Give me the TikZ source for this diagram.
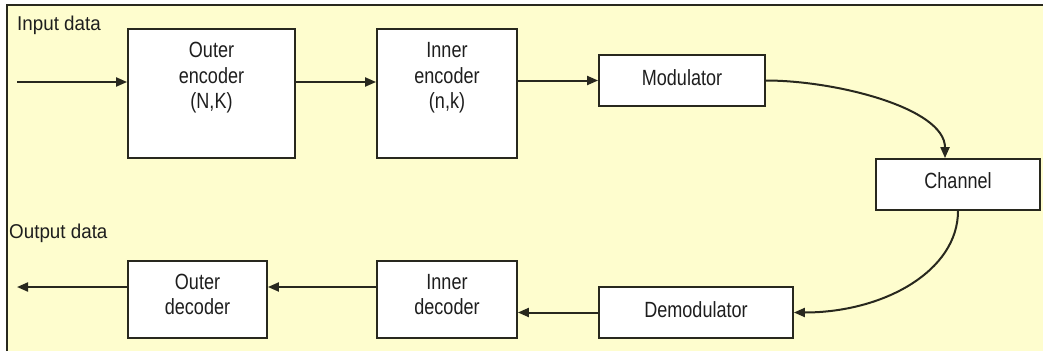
\documentclass[tikz,border=0pt]{standalone}
\usepackage{fontspec}
\setmainfont{Liberation Sans}
\usetikzlibrary{arrows.meta,calc}
\definecolor{bg}{RGB}{254,253,206}
\definecolor{ln}{RGB}{40,40,30}
\definecolor{tx}{RGB}{30,30,30}
\newcommand{\sq}[1]{\scalebox{0.82}[1]{\begin{tabular}{@{}c@{}}#1\end{tabular}}}
\newcommand{\sqq}[1]{\scalebox{0.94}[1]{#1}}
\begin{document}
\begin{tikzpicture}[x=1pt,y=-1pt,
  box/.style={draw=ln,line width=1.8pt,fill=white,inner sep=0pt},
  lab/.style={inner sep=0pt,font=\fontsize{22}{25.5}\selectfont,text=tx},
  side/.style={inner sep=0pt,font=\fontsize{20}{24}\selectfont,text=tx,anchor=west},
  con/.style={draw=ln,line width=2pt,-{Triangle[length=11pt,width=9pt]}},
]
\useasboundingbox (0,0) rectangle (1043,351);
\fill[white] (0,0) rectangle (1043,351);
\fill[bg] (7,5) rectangle (1043,351);
\draw[ln,line width=2pt] (7,351) -- (7,5) -- (1043,5);

% boxes
\node[box,minimum width=167pt,minimum height=129pt] (oe) at (211.5,93.5) {};
\node[box,minimum width=140pt,minimum height=129pt] (ie) at (447,93.5) {};
\node[box,minimum width=166pt,minimum height=51pt] (mod) at (682,80.5) {};
\node[box,minimum width=164pt,minimum height=51pt] (chan) at (958,184.5) {};
\node[box,minimum width=194pt,minimum height=51pt] (demod) at (696,312.5) {};
\node[box,minimum width=140pt,minimum height=77pt] (id) at (447,299.5) {};
\node[box,minimum width=139pt,minimum height=77pt] (od) at (197.5,299.5) {};

% texts
\node[lab] (oet) at (211.5,78) {\sq{Outer\\encoder\\(N,K)}};
\node[lab] (iet) at (447,78) {\sq{Inner\\encoder\\(n,k)}};
\node[lab] (modt) at (682,80) {\sq{Modulator}};
\node[lab] (chant) at (958,183) {\sq{Channel}};
\node[lab] (demodt) at (696,312) {\sq{Demodulator}};
\node[lab] (idt) at (447,297) {\sq{Inner\\decoder}};
\node[lab] (odt) at (197.5,297) {\sq{Outer\\decoder}};
\node[side] (inl) at (17,25) {\sqq{Input data}};
\node[side] (outl) at (9,233) {\sqq{Output data}};

% connectors
\coordinate (in) at (17,82);
\coordinate (out) at (17,287);
\draw[con] (in) -- (in -| oe.west);
\draw[con] (oe.east |- in) -- (ie.west |- in);
\draw[con] (ie.east |- mod.west) -- (mod.west);
\draw[con] (mod.east) .. controls ($(mod.east)+(70,0)$) and ($(chan.north)+(-13,-50)$) .. ([xshift=-13pt]chan.north);
\draw[con] (chan.south) .. controls ($(chan.south)+(0,60)$) and ($(demod.east)+(90,0)$) .. (demod.east);
\draw[con] (demod.west) -- (id.east |- demod.west);
\draw[con] (id.west |- out) -- (od.east |- out);
\draw[con] (od.west |- out) -- (out);
\end{tikzpicture}
\end{document}
